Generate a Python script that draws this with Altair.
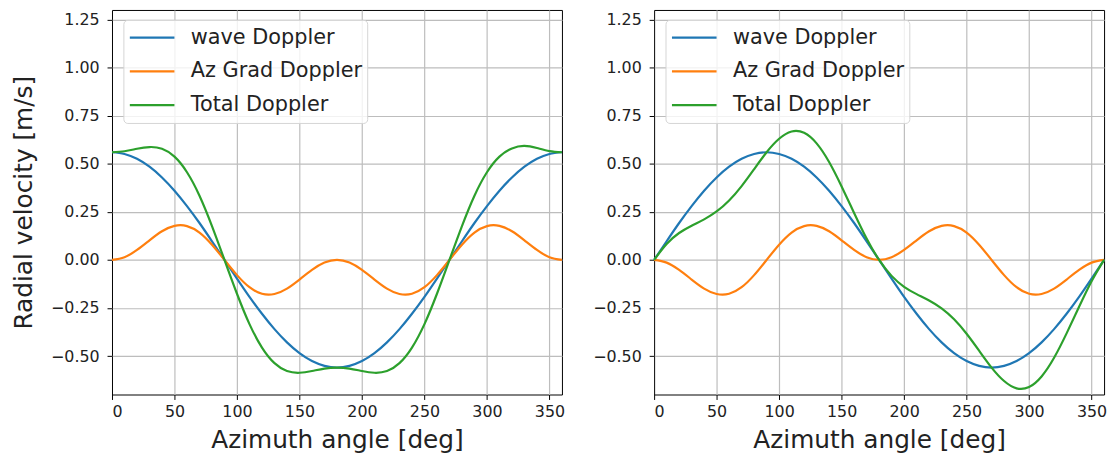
import altair as alt
import pandas as pd

angles = list(range(0, 361, 10))

left_wave = [0.560, 0.551, 0.526, 0.485, 0.429, 0.360, 0.280, 0.192, 0.097, 0.000,
             -0.097, -0.192, -0.280, -0.360, -0.429, -0.485, -0.526, -0.551, -0.560,
             -0.551, -0.526, -0.485, -0.429, -0.360, -0.280, -0.192, -0.097, 0.000,
             0.097, 0.192, 0.280, 0.360, 0.429, 0.485, 0.526, 0.551, 0.560]
left_az = [0.000, 0.014, 0.052, 0.102, 0.149, 0.177, 0.176, 0.142, 0.079, 0.000,
           -0.079, -0.142, -0.176, -0.177, -0.149, -0.102, -0.052, -0.014, 0.000,
           -0.014, -0.052, -0.102, -0.149, -0.177, -0.176, -0.142, -0.079, 0.000,
           0.079, 0.142, 0.176, 0.177, 0.149, 0.102, 0.052, 0.014, 0.000]
left_total = [0.560, 0.565, 0.578, 0.587, 0.578, 0.537, 0.456, 0.334, 0.176, 0.000,
              -0.176, -0.334, -0.456, -0.537, -0.578, -0.587, -0.578, -0.565, -0.560,
              -0.565, -0.578, -0.587, -0.578, -0.537, -0.456, -0.334, -0.176, 0.000,
              0.176, 0.334, 0.456, 0.537, 0.580, 0.593, 0.582, 0.566, 0.560]

right_wave = [0.000, 0.097, 0.192, 0.280, 0.360, 0.429, 0.485, 0.526, 0.551, 0.560,
              0.551, 0.526, 0.485, 0.429, 0.360, 0.280, 0.192, 0.097, 0.000,
              -0.097, -0.192, -0.280, -0.360, -0.429, -0.485, -0.526, -0.551, -0.560,
              -0.551, -0.526, -0.485, -0.429, -0.360, -0.280, -0.192, -0.097, 0.000]
right_az = [0.000, -0.014, -0.052, -0.102, -0.149, -0.177, -0.176, -0.142, -0.079, 0.000,
            0.079, 0.142, 0.176, 0.177, 0.149, 0.102, 0.052, 0.014, 0.000,
            0.014, 0.052, 0.102, 0.149, 0.177, 0.176, 0.142, 0.079, 0.000,
            -0.079, -0.142, -0.176, -0.177, -0.149, -0.102, -0.052, -0.014, 0.000]
right_total = [0.000, 0.083, 0.140, 0.178, 0.211, 0.252, 0.309, 0.384, 0.472, 0.560,
               0.630, 0.668, 0.661, 0.606, 0.509, 0.382, 0.244, 0.111, 0.000,
               -0.083, -0.140, -0.178, -0.211, -0.252, -0.309, -0.384, -0.472, -0.560,
               -0.630, -0.668, -0.661, -0.606, -0.509, -0.382, -0.244, -0.111, 0.000]

series_names = ["wave Doppler", "Az Grad Doppler", "Total Doppler"]
series_colors = ["#1f77b4", "#ff7f0e", "#2ca02c"]
x_ticks = [0, 50, 100, 150, 200, 250, 300, 350]
y_ticks = [-0.5, -0.25, 0.0, 0.25, 0.5, 0.75, 1.0, 1.25]

FONT = "DejaVu Sans"


def to_long(wave, az, total):
    rows = []
    for name, vals in zip(series_names, [wave, az, total]):
        for a, v in zip(angles, vals):
            rows.append({"angle": a, "value": v, "series": name})
    return pd.DataFrame(rows)


def panel(df, ytitle):
    yaxis_kwargs = dict(values=y_ticks, format=".2f")
    if ytitle:
        yaxis_kwargs["title"] = ytitle
    else:
        yaxis_kwargs["title"] = None
    return alt.Chart(df).mark_line(strokeWidth=2.2, interpolate="natural").encode(
        x=alt.X("angle:Q",
                scale=alt.Scale(domain=[0, 360], nice=False, zero=False),
                axis=alt.Axis(values=x_ticks, format="d", title="Azimuth angle [deg]",
                              gridOpacity=alt.ExprRef(expr="datum.value == 0 ? 0 : 1"))),
        y=alt.Y("value:Q",
                scale=alt.Scale(domain=[-0.7, 1.3], nice=False, zero=False),
                axis=alt.Axis(**yaxis_kwargs)),
        color=alt.Color("series:N",
                        scale=alt.Scale(domain=series_names, range=series_colors),
                        legend=alt.Legend(
                            title=None, orient="none", legendX=11.5, legendY=10,
                            symbolType="stroke", symbolSize=2025, symbolStrokeWidth=2.2,
                            labelFontSize=21, labelFont=FONT, labelColor="#222222",
                            labelLimit=500,
                            labelOffset=15, padding=5, rowPadding=8, clipHeight=26,
                            fillColor="rgba(255,255,255,0.8)", strokeColor="#d5d5d5",
                            cornerRadius=4)),
        detail="series:N",
    ).properties(width=454, height=388)


left = panel(to_long(left_wave, left_az, left_total), "Radial velocity [m/s]")
right = panel(to_long(right_wave, right_az, right_total), None)

chart = alt.hconcat(left, right, spacing=25).resolve_legend(color="independent").properties(
    padding={"left": 11, "top": 7, "right": 4, "bottom": 2}
).configure_view(
    stroke="black", strokeWidth=1
).configure_axis(
    domain=False,
    grid=True, gridColor="#bdbdbd", gridWidth=1.2,
    tickColor="black", tickSize=5, tickWidth=1,
    labelFont=FONT, labelFontSize=16, labelColor="#222222", labelPadding=6,
    titleFont=FONT, titleFontSize=25, titleFontWeight="normal", titleColor="#222222",
).configure_axisY(
    titlePadding=14, labelPadding=8
).configure_axisX(
    titlePadding=8, labelPadding=4
)

chart.save("out.html", embed_options={"renderer": "svg", "actions": False})
